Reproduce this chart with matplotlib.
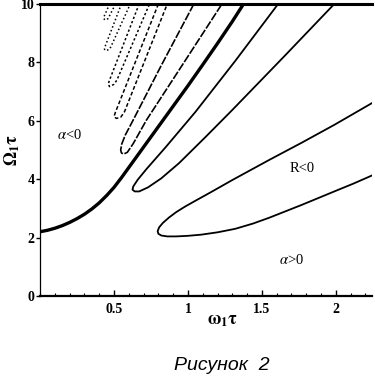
import matplotlib
matplotlib.use("Agg")
import matplotlib.pyplot as plt
from matplotlib.ticker import MultipleLocator

plt.rcParams['font.family'] = ['Liberation Serif', 'DejaVu Serif']
plt.rcParams['mathtext.fontset'] = 'stix'

# boundary alpha = 0 (thick curve)
thick_x = [0.0, 0.05, 0.1, 0.15, 0.2, 0.25, 0.3, 0.35, 0.4, 0.45, 0.5, 0.55, 0.6,
           0.7, 0.8, 0.9, 1.0, 1.1, 1.2, 1.3, 1.376]
thick_y = [2.2, 2.25, 2.32, 2.41, 2.52, 2.65, 2.8, 2.98, 3.19, 3.44, 3.72, 4.05, 4.4,
           5.1, 5.8, 6.5, 7.2, 7.92, 8.65, 9.4, 10.0]

# hairpin contours R = 0, from the upper branch end round the tip to the lower branch end
h1_x = [2.26, 1.99, 1.77, 1.55, 1.30, 1.15, 1.05, 0.98, 0.92, 0.87, 0.83, 0.805, 0.795,
        0.80, 0.82, 0.86, 0.92, 1.0, 1.09, 1.2, 1.32, 1.44, 1.55, 1.77, 1.99, 2.12, 2.26]
h1_y = [6.65, 5.86, 5.25, 4.66, 3.97, 3.54, 3.26, 3.06, 2.87, 2.68, 2.5, 2.35, 2.22,
        2.13, 2.07, 2.04, 2.04, 2.06, 2.1, 2.18, 2.3, 2.48, 2.68, 3.12, 3.58, 3.85, 4.16]

h2_x = [1.61, 1.32, 1.05, 0.85, 0.72, 0.66, 0.63, 0.625, 0.64, 0.67, 0.73, 0.82,
        0.94, 1.12, 1.30, 1.65, 1.99]
h2_y = [10.0, 8.05, 6.3, 5.1, 4.35, 3.98, 3.75, 3.64, 3.58, 3.58, 3.72, 4.03,
        4.55, 5.45, 6.37, 8.2, 10.0]

h3_x = [1.04, 0.82, 0.63, 0.575, 0.552, 0.545, 0.55, 0.565, 0.59, 0.63, 0.72, 0.98, 1.23]
h3_y = [10.0, 7.9, 6.03, 5.5, 5.2, 5.0, 4.9, 4.86, 4.92, 5.22, 6.03, 8.05, 10.0]

h4_x = [0.80, 0.655, 0.51, 0.50, 0.515, 0.545, 0.57, 0.715, 0.86]
h4_y = [10.0, 8.15, 6.3, 6.15, 6.08, 6.12, 6.3, 8.15, 10.0]

h5_x = [0.67, 0.47, 0.46, 0.47, 0.50, 0.52, 0.74]
h5_y = [10.0, 7.4, 7.25, 7.17, 7.25, 7.4, 10.0]

h6_x = [0.55, 0.44, 0.435, 0.445, 0.47, 0.48, 0.61]
h6_y = [10.0, 8.55, 8.45, 8.4, 8.45, 8.55, 10.0]

h7_x = [0.47, 0.435, 0.43, 0.44, 0.46, 0.47, 0.51]
h7_y = [10.0, 9.6, 9.5, 9.45, 9.5, 9.6, 10.0]

x_ticks = [0.5, 1, 1.5, 2]
x_labels = ["0.5", "1", "1.5", "2"]
y_ticks = [0, 2, 4, 6, 8, 10]

fig = plt.figure(figsize=(3.75, 3.78), dpi=100)
ax = fig.add_axes([0.107, 0.217, 0.885, 0.7725])

ax.plot(thick_x, thick_y, color='black', lw=2.4, solid_capstyle='round')
ax.plot(h1_x, h1_y, color='black', lw=1.3)
ax.plot(h2_x, h2_y, color='black', lw=1.3)
ax.plot(h3_x, h3_y, color='black', lw=1.2, linestyle=(0, (5, 1)))
ax.plot(h4_x, h4_y, color='black', lw=1.1, linestyle=(0, (2.5, 1.5)))
ax.plot(h5_x, h5_y, color='black', lw=1.1, linestyle=(0, (1.5, 1.5)))
ax.plot(h6_x, h6_y, color='black', lw=1.1, linestyle=(0, (1, 1.6)))
ax.plot(h7_x, h7_y, color='black', lw=1.1, linestyle=(0, (1, 1.6)))

ax.set_xlim(0, 2.245)
ax.set_ylim(0, 10)

ax.spines['right'].set_visible(False)
ax.spines['top'].set_linewidth(2.2)
ax.spines['bottom'].set_linewidth(1.6)
ax.spines['left'].set_linewidth(0.9)

ax.set_xticks(x_ticks)
ax.set_xticklabels(x_labels)
ax.set_yticks(y_ticks)
ax.xaxis.set_minor_locator(MultipleLocator(0.1))
ax.yaxis.set_minor_locator(MultipleLocator(0.5))
ax.tick_params(axis='x', which='major', direction='in', length=4, width=1, pad=5, labelsize=10)
ax.tick_params(axis='x', which='minor', direction='in', length=2, width=0.8)
ax.tick_params(axis='y', which='major', direction='out', length=3, width=1, pad=1, labelsize=10)
ax.tick_params(axis='y', which='minor', length=0)
for lab in ax.get_xticklabels() + ax.get_yticklabels():
    lab.set_fontweight('bold')

# region labels
ax.text(0.2, 5.5, r"$\alpha$<0", fontsize=10.5, ha='center', va='center')
ax.text(1.77, 4.38, "R<0", fontsize=10.5, ha='center', va='center')
ax.text(1.70, 1.23, r"$\alpha$>0", fontsize=10.5, ha='center', va='center')

# axis labels
ax.text(0.548, -0.085, r"$\mathbf{\omega_1\tau}$", transform=ax.transAxes,
        fontsize=13, ha='center', va='center')
ax.text(-0.085, 0.5, r"$\mathbf{\Omega_1\tau}$", transform=ax.transAxes,
        fontsize=13, ha='center', va='center', rotation=90)

fig.text(0.592, 0.034, "Рисунок  2", fontsize=14, style='italic',
         family=['Liberation Sans', 'DejaVu Sans'], ha='center', va='center')

fig.savefig("out.png", dpi=100, facecolor='white')
